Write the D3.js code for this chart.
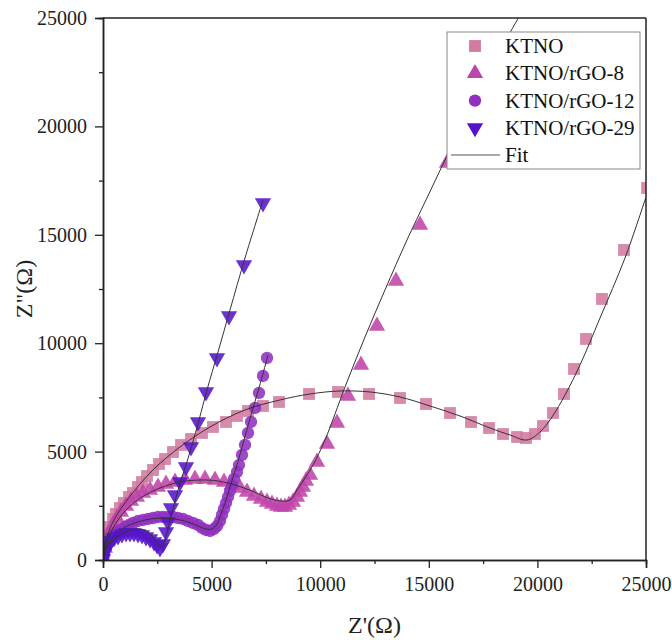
<!DOCTYPE html>
<html>
<head>
<meta charset="utf-8">
<script src="https://cdn.jsdelivr.net/npm/d3@7"></script>
<style>
  body { margin: 0; background: #fff; }
  text { font-family: "Liberation Serif", "Times New Roman", serif; }
</style>
</head>
<body>
<svg id="chart" width="672" height="640"></svg>
<script>
// measured points [Z', Z''] in ohm
const ktno = [
  [46, 369], [138, 784], [230, 1153], [322, 1522], [460, 1891], [598, 2122], [783, 2399],
  [967, 2629], [1197, 2906], [1381, 3091], [1611, 3367], [1796, 3598], [2026, 3875],
  [2302, 4152], [2578, 4428], [2854, 4659], [3223, 4982], [3591, 5305], [4051, 5581],
  [4558, 5859], [5064, 6135], [5663, 6366], [6169, 6643], [6676, 6873], [7366, 7104],
  [8103, 7289], [9484, 7658], [10819, 7750], [12247, 7658], [13674, 7473], [14871, 7196],
  [15976, 6781], [16943, 6366], [17772, 6089], [18416, 5812], [19061, 5674], [19475, 5628],
  [19890, 5812], [20258, 6181], [20718, 6781], [21225, 7658], [21685, 8811], [22238, 10195],
  [22974, 12040], [23987, 14301], [25050, 17160]
];
const rgo8 = [
  [0, 138], [92, 554], [184, 923], [322, 1292], [460, 1615], [645, 1937], [829, 2214],
  [1059, 2491], [1289, 2722], [1565, 2906], [1842, 3091], [2164, 3229], [2532, 3367],
  [2900, 3506], [3315, 3598], [3775, 3690], [4236, 3737], [4696, 3737], [5156, 3690],
  [5571, 3598], [5939, 3460], [6308, 3321], [6630, 3137], [6952, 2952], [7274, 2814],
  [7551, 2676], [7781, 2583], [8011, 2491], [8195, 2445], [8379, 2445], [8563, 2537],
  [8748, 2676], [8932, 2906], [9070, 3137], [9208, 3367], [9346, 3644], [9530, 3921],
  [9853, 4521], [10313, 5351], [10773, 6320], [11280, 7565], [11878, 8995], [12615, 10794],
  [13490, 12870], [14595, 15454], [15838, 18314]
];
const rgo12 = [
  [0, 46], [46, 323], [138, 600], [230, 830], [368, 1015], [506, 1153], [645, 1292],
  [829, 1430], [1013, 1522], [1197, 1615], [1381, 1707], [1611, 1799], [1842, 1845],
  [2072, 1891], [2302, 1937], [2532, 1984], [2762, 1984], [2993, 1984], [3223, 1984],
  [3453, 1937], [3683, 1891], [3913, 1799], [4144, 1707], [4374, 1615], [4558, 1476],
  [4742, 1384], [4926, 1338], [5110, 1430], [5249, 1568], [5387, 1799], [5479, 2076],
  [5571, 2353], [5663, 2629], [5755, 2906], [5847, 3183], [5939, 3460], [6031, 3737],
  [6169, 4059], [6262, 4382], [6400, 4844], [6538, 5305], [6676, 5859], [6814, 6366],
  [6998, 7012], [7182, 7704], [7366, 8488], [7551, 9318]
];
const rgo29 = [
  [0, 46], [46, 277], [138, 507], [230, 692], [368, 876], [506, 1015], [691, 1107],
  [875, 1199], [1059, 1245], [1243, 1245], [1427, 1245], [1611, 1199], [1796, 1153],
  [1980, 1061], [2164, 969], [2348, 830], [2486, 692], [2624, 554], [2762, 738],
  [2900, 1292], [2993, 1753], [3131, 2399], [3315, 2998], [3545, 3598], [3821, 4290],
  [4051, 5213], [4374, 6366], [4742, 7750], [5249, 9318], [5801, 11256], [6492, 13608],
  [7366, 16468]
];

// fitted curves
const ktnoFit = [
  [0, 0], [138, 923], [414, 1661], [783, 2306], [1473, 3229], [2394, 4244], [3545, 5213],
  [4926, 6135], [6538, 6920], [8149, 7381], [9530, 7658], [10911, 7796], [12293, 7750],
  [13674, 7519], [15055, 7104], [16436, 6643], [17818, 6089], [18738, 5766], [19521, 5536],
  [20119, 5905], [20672, 6597], [21271, 7611], [21961, 8995], [22882, 11163],
  [24033, 13931], [25000, 16745]
];
const rgo8Fit = [
  [0, 0], [138, 692], [368, 1292], [691, 1845], [1151, 2399], [1796, 2906], [2624, 3321],
  [3545, 3598], [4466, 3690], [5295, 3644], [6078, 3460], [6860, 3183], [7597, 2860],
  [8149, 2722], [8609, 2768], [8932, 3229], [9300, 3783], [9669, 4382], [10221, 5536],
  [11142, 7980], [12063, 10287], [12983, 12455], [13996, 14762], [14871, 16607],
  [15746, 18452], [16897, 20851], [18048, 23065], [19199, 25141]
];
const rgo12Fit = [
  [0, 0], [92, 461], [276, 830], [552, 1153], [875, 1430], [1335, 1661], [1934, 1845],
  [2624, 1937], [3315, 1891], [3913, 1753], [4374, 1568], [4742, 1430], [5018, 1430],
  [5249, 1661], [5433, 2122], [5663, 2768], [5893, 3506], [6169, 4382], [6492, 5536],
  [6814, 6689], [7182, 7934], [7597, 9456]
];
const rgo29Fit = [
  [0, 0], [138, 461], [368, 830], [691, 1107], [1105, 1338], [1565, 1430], [1980, 1338],
  [2302, 1061], [2578, 692], [2716, 600], [2854, 923], [3039, 1661], [3269, 2537],
  [3545, 3552], [3821, 4382], [4098, 5305], [4420, 6458], [4788, 7842], [5295, 9595],
  [5847, 11532], [6538, 13931], [7366, 16606]
];

const seriesNames = ['KTNO', 'KTNO/rGO-8', 'KTNO/rGO-12', 'KTNO/rGO-29'];
const seriesColors = ['#d27aa0', '#bf44aa', '#9130bf', '#5514c8'];
const majorTicks = [0, 5000, 10000, 15000, 20000, 25000];
const minorTicks = [2500, 7500, 12500, 17500, 22500];

const svg = d3.select('#chart');
const plotLeft = 103, plotRight = 646, plotTop = 18, plotBottom = 560;

const x = d3.scaleLinear().domain([0, 25000]).range([plotLeft, plotRight]);
const y = d3.scaleLinear().domain([0, 25000]).range([plotBottom, plotTop]);

svg.append('defs').append('clipPath')
  .attr('id', 'plotClip')
  .append('rect')
  .attr('x', plotLeft)
  .attr('y', plotTop)
  .attr('width', plotRight - plotLeft)
  .attr('height', plotBottom - plotTop);

const plot = svg.append('g').attr('clip-path', 'url(#plotClip)');

const symbols = [
  d3.symbol().type(d3.symbolSquare).size(140),
  d3.symbol().type(d3.symbolTriangle).size(115),
  d3.symbol().type(d3.symbolCircle).size(120),
  d3.symbol().type(d3.symbolTriangle).size(115)
];
const rotations = [0, 0, 0, 180];

const allData = [ktno, rgo8, rgo12, rgo29];
const allFits = [ktnoFit, rgo8Fit, rgo12Fit, rgo29Fit];

allData.forEach(function (data, i) {
  plot.append('g')
    .selectAll('path')
    .data(data)
    .enter()
    .append('path')
    .attr('d', symbols[i])
    .attr('transform', function (d) {
      return 'translate(' + x(d[0]) + ',' + y(d[1]) + ') rotate(' + rotations[i] + ')';
    })
    .style('fill', seriesColors[i])
    .style('fill-opacity', 0.88);
});

const line = d3.line()
  .x(function (d) { return x(d[0]); })
  .y(function (d) { return y(d[1]); })
  .curve(d3.curveCatmullRom.alpha(0.5));

allFits.forEach(function (fit) {
  plot.append('path')
    .datum(fit)
    .attr('d', line)
    .style('fill', 'none')
    .style('stroke', '#333')
    .style('stroke-width', 1);
});

// axes
const xAxis = svg.append('g').attr('transform', 'translate(0,' + plotBottom + ')');
xAxis.call(d3.axisBottom(x).tickValues(majorTicks).tickSize(8).tickPadding(9).tickFormat(d3.format('d')));
const xMinor = svg.append('g').attr('transform', 'translate(0,' + plotBottom + ')');
xMinor.call(d3.axisBottom(x).tickValues(minorTicks).tickSize(4).tickFormat(''));

const yAxis = svg.append('g').attr('transform', 'translate(' + plotLeft + ',0)');
yAxis.call(d3.axisLeft(y).tickValues(majorTicks).tickSize(8).tickPadding(8).tickFormat(d3.format('d')));
const yMinor = svg.append('g').attr('transform', 'translate(' + plotLeft + ',0)');
yMinor.call(d3.axisLeft(y).tickValues(minorTicks).tickSize(4).tickFormat(''));

[xAxis, xMinor, yAxis, yMinor].forEach(function (g) {
  g.attr('font-family', '"Liberation Serif", serif').attr('font-size', 20);
  g.select('.domain').style('stroke', '#222').style('stroke-width', 1.5);
  g.selectAll('.tick line').style('stroke', '#222').style('stroke-width', 1.3);
  g.selectAll('.tick text').style('fill', '#222');
});

// top and right frame
svg.append('line')
  .attr('x1', plotLeft).attr('x2', plotRight).attr('y1', plotTop).attr('y2', plotTop)
  .style('stroke', '#222').style('stroke-width', 1.5);
svg.append('line')
  .attr('x1', plotRight).attr('x2', plotRight).attr('y1', plotTop).attr('y2', plotBottom)
  .style('stroke', '#222').style('stroke-width', 1.5);

svg.append('text')
  .attr('x', (plotLeft + plotRight) / 2)
  .attr('y', 633)
  .attr('text-anchor', 'middle')
  .style('font-size', '24px')
  .style('fill', '#222')
  .text("Z'(Ω)");

svg.append('text')
  .attr('transform', 'translate(32,' + ((plotTop + plotBottom) / 2) + ') rotate(-90)')
  .attr('text-anchor', 'middle')
  .style('font-size', '24px')
  .style('fill', '#222')
  .text('Z"(Ω)');

// legend
const legend = svg.append('g');
legend.append('rect')
  .attr('x', 447)
  .attr('y', 32)
  .attr('width', 193)
  .attr('height', 137)
  .style('fill', '#fff')
  .style('stroke', '#888')
  .style('stroke-width', 1);

const legendItems = legend.selectAll('.legend')
  .data(seriesNames)
  .enter()
  .append('g')
  .attr('class', 'legend')
  .attr('transform', function (d, i) {
    return 'translate(475,' + (46 + i * 27.3) + ')';
  });

legendItems.append('path')
  .attr('d', function (d, i) { return symbols[i](); })
  .attr('transform', function (d, i) { return 'rotate(' + rotations[i] + ')'; })
  .style('fill', function (d, i) { return seriesColors[i]; });

legendItems.append('text')
  .attr('x', 30)
  .attr('y', 7)
  .style('font-size', '21px')
  .style('fill', '#111')
  .text(function (d) { return d; });

legend.append('line')
  .attr('x1', 451).attr('x2', 500).attr('y1', 155).attr('y2', 155)
  .style('stroke', '#555').style('stroke-width', 1);
legend.append('text')
  .attr('x', 505)
  .attr('y', 162)
  .style('font-size', '21px')
  .style('fill', '#111')
  .text('Fit');
</script>
</body>
</html>
